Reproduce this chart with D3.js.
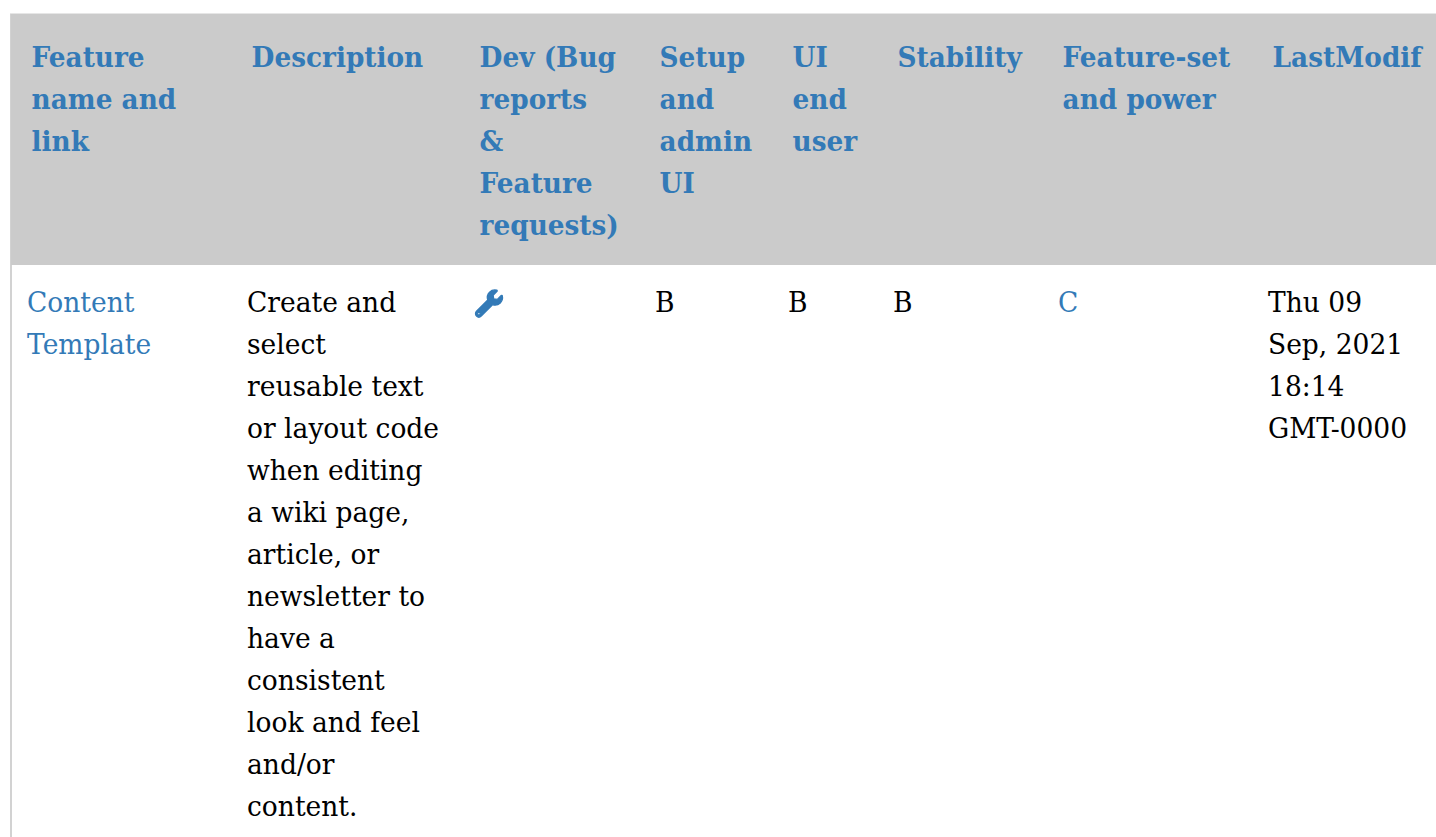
<!DOCTYPE html>
<html>
<head>
<meta charset="utf-8">
<script src="https://cdn.jsdelivr.net/npm/d3@7"></script>
<style>
  html, body { margin: 0; padding: 0; background: #fff; overflow: hidden; }
  svg { display: block; }
  text { font-family: "DejaVu Serif", serif; font-size: 28px; }
</style>
</head>
<body>
<script>
const width = 1436;
const height = 837;

const columns = ["name", "desc", "dev", "setup", "ui", "stability", "power", "modif"];

// header cells, one entry per wrapped line
const headerLines = [
  ["Feature", "name and", "link"],
  ["Description"],
  ["Dev (Bug", "reports", "&", "Feature", "requests)"],
  ["Setup", "and", "admin", "UI"],
  ["UI", "end", "user"],
  ["Stability"],
  ["Feature-set", "and power"],
  ["LastModif"],
];

const rowLines = [
  ["Content", "Template"],
  ["Create and", "select", "reusable text", "or layout code", "when editing", "a wiki page,", "article, or", "newsletter to", "have a", "consistent", "look and feel", "and/or", "content."],
  [],
  ["B"],
  ["B"],
  ["B"],
  ["C"],
  ["Thu 09", "Sep, 2021", "18:14", "GMT-0000"],
];

const linkColumns = ["name", "dev", "power"];
const iconColumn = "dev";

const blue = "#337ab7";
const wrench =
  "M507.73 109.1c-2.24-9.03-13.54-12.09-20.12-5.51l-74.36 74.36-67.88-11.31-11.31-67.88 74.36-74.36c6.62-6.62 3.43-17.9-5.66-20.16-47.38-11.74-99.55.91-136.58 37.93-39.64 39.64-50.55 97.1-34.05 147.2L18.74 402.76c-24.99 24.99-24.99 65.51 0 90.5 24.99 24.99 65.51 24.99 90.5 0l213.21-213.21c50.12 16.71 107.47 5.68 147.37-34.22 37.07-37.07 49.7-89.32 37.91-136.73zM64 472c-13.25 0-24-10.75-24-24 0-13.26 10.75-24 24-24s24 10.74 24 24c0 13.25-10.75 24-24 24z";

// column left edges of the body text
const x = d3
  .scaleOrdinal()
  .domain(columns)
  .range([27, 247, 475, 655, 788, 893, 1058, 1268]);

const headerOffset = 4.6;
const lineY = d3.scaleLinear().domain([0, 1]).range([0, 42]);

// the reference text runs a little narrower than DejaVu Serif does here
const squeezeHead = 0.941;
const squeezeBody = 0.948;

const svg = d3
  .select("body")
  .append("svg")
  .attr("width", width)
  .attr("height", height);

// table borders
svg.append("rect").attr("x", 10).attr("y", 13).attr("width", width - 10).attr("height", 1).attr("fill", "#e6e6e6");
svg.append("rect").attr("x", 10).attr("y", 14).attr("width", 2).attr("height", height - 14).attr("fill", "#d2d2d2");

// header background
svg.append("rect").attr("x", 11).attr("y", 14).attr("width", width - 11).attr("height", 251).attr("fill", "#cbcbcb");

// header text
svg
  .selectAll("g.head")
  .data(columns.map((c, i) => ({ col: c, lines: headerLines[i] })))
  .enter()
  .append("g")
  .attr("class", "head")
  .attr("fill", blue)
  .attr("font-weight", "bold")
  .selectAll("text")
  .data((d) => d.lines.map((t, i) => ({ col: d.col, t, i })))
  .enter()
  .append("text")
  .attr("transform", (d) => `translate(${x(d.col) + headerOffset},${67 + lineY(d.i)}) scale(${squeezeHead},1)`)
  .text((d) => d.t);

// body text
svg
  .selectAll("g.cell")
  .data(columns.map((c, i) => ({ col: c, lines: rowLines[i] })))
  .enter()
  .append("g")
  .attr("class", "cell")
  .attr("fill", (d) => (linkColumns.includes(d.col) ? blue : "#000"))
  .selectAll("text")
  .data((d) => d.lines.map((t, i) => ({ col: d.col, t, i })))
  .enter()
  .append("text")
  .attr("transform", (d) => `translate(${x(d.col)},${311.6 + lineY(d.i)}) scale(${squeezeBody},1)`)
  .text((d) => d.t);

// wrench icon in the Dev column
svg
  .append("path")
  .attr("d", wrench)
  .attr("fill", blue)
  .attr("stroke", blue)
  .attr("stroke-width", 24)
  .attr("transform", `translate(${x(iconColumn) + 0.5},290) scale(${27 / 512})`);
</script>
</body>
</html>
